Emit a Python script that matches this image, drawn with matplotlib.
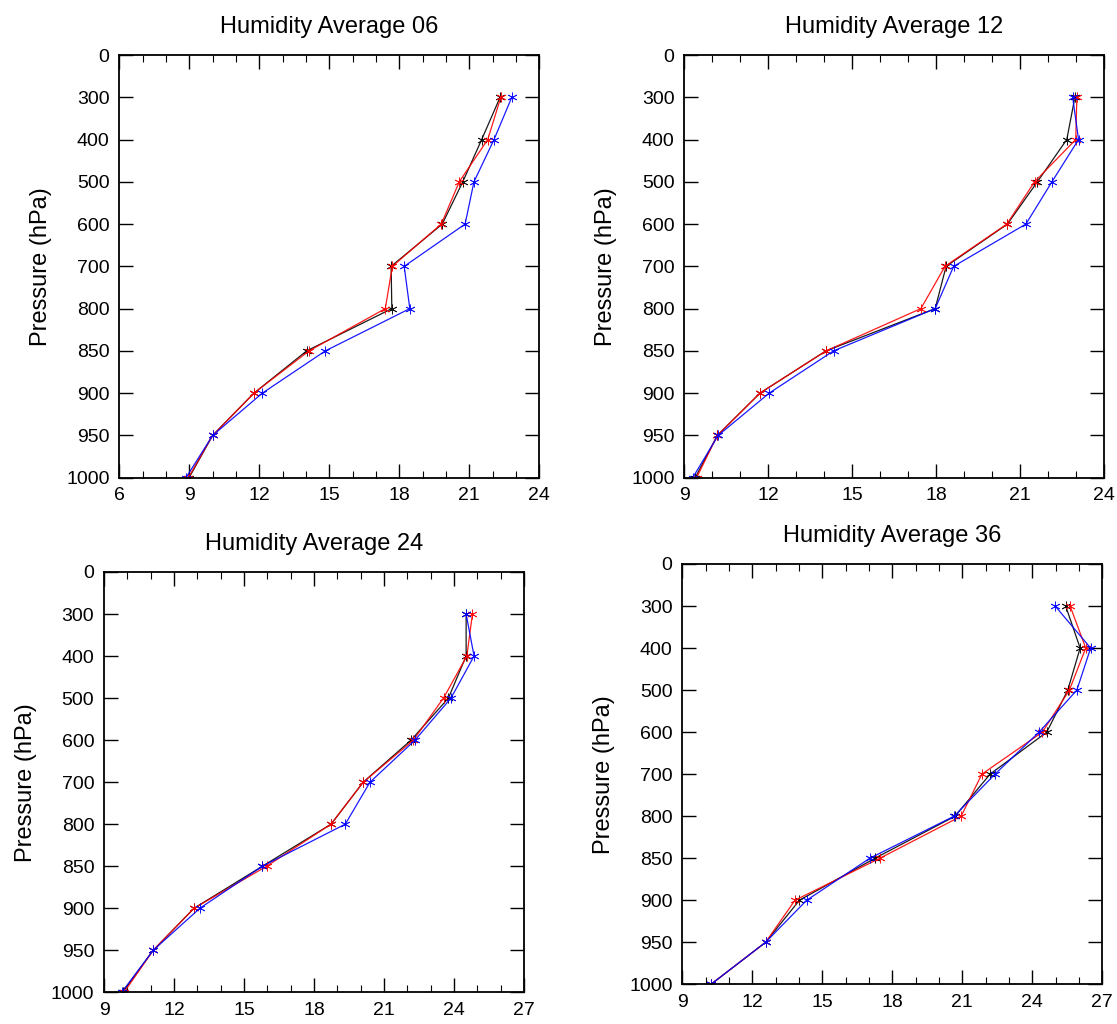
import matplotlib
matplotlib.use("Agg")
import matplotlib.pyplot as plt
from matplotlib.ticker import MultipleLocator

plt.rcParams["font.family"] = ["Liberation Sans", "DejaVu Sans"]

# Pressure levels (hPa), plotted at evenly spaced positions
levels = ["0", "300", "400", "500", "600", "700", "800", "850", "900", "950", "1000"]

titles = ["Humidity Average 06", "Humidity Average 12",
          "Humidity Average 24", "Humidity Average 36"]

# Humidity profiles, 300 hPa -> 1000 hPa
h06_black = [22.32, 21.53, 20.72, 19.84, 17.65, 17.68, 14.03, 11.77, 10.00, 8.99]
h06_red   = [22.35, 21.79, 20.57, 19.80, 17.70, 17.40, 14.13, 11.77, 10.00, 8.96]
h06_blue  = [22.82, 22.06, 21.20, 20.82, 18.21, 18.45, 14.83, 12.13, 10.00, 8.86]

h12_black = [22.95, 22.66, 21.61, 20.54, 18.35, 17.96, 14.06, 11.70, 10.18, 9.39]
h12_red   = [23.02, 22.98, 21.51, 20.52, 18.31, 17.45, 14.06, 11.70, 10.18, 9.44]
h12_blue  = [22.87, 23.08, 22.13, 21.20, 18.62, 17.96, 14.33, 12.03, 10.21, 9.30]

h24_black = [24.52, 24.52, 23.76, 22.16, 20.11, 18.73, 15.79, 12.86, 11.11, 9.80]
h24_red   = [24.79, 24.55, 23.55, 22.26, 20.11, 18.73, 15.97, 12.86, 11.11, 9.86]
h24_blue  = [24.52, 24.86, 23.87, 22.33, 20.40, 19.34, 15.79, 13.11, 11.11, 9.76]

h36_black = [25.43, 26.05, 25.52, 24.62, 22.19, 20.69, 17.26, 14.02, 12.57, 10.23]
h36_red   = [25.62, 26.29, 25.59, 24.43, 21.84, 20.95, 17.47, 13.83, 12.57, 10.23]
h36_blue  = [24.98, 26.50, 25.91, 24.29, 22.40, 20.65, 17.04, 14.33, 12.57, 10.23]

x_ranges = [(6, 24), (9, 24), (9, 27), (9, 27)]
series = [
    (h06_black, h06_red, h06_blue),
    (h12_black, h12_red, h12_blue),
    (h24_black, h24_red, h24_blue),
    (h36_black, h36_red, h36_blue),
]
colors = ["black", "red", "blue"]

W, H = 1117, 1024
# axes boxes in pixels: left, top, right, bottom
boxes = [
    (119.3, 55.0, 539.3, 477.7),
    (684.3, 55.0, 1104.3, 477.7),
    (104.0, 572.0, 524.0, 992.3),
    (682.3, 564.0, 1102.3, 984.3),
]

fig = plt.figure(figsize=(W / 100, H / 100), dpi=100)
fig.patch.set_facecolor("white")

y_data = list(range(1, len(levels)))

for k in range(4):
    l, t, r, b = boxes[k]
    ax = fig.add_axes([l / W, 1 - b / H, (r - l) / W, (b - t) / H])
    for ser, col in zip(series[k], colors):
        ax.plot(ser, y_data, color=col, lw=0.9, marker=(6, 2, 0),
                markersize=7, markeredgewidth=0.6, alpha=0.9)
    x0, x1 = x_ranges[k]
    ax.set_xlim(x0, x1)
    ax.set_ylim(len(levels) - 1, 0)
    ax.set_yticks(range(len(levels)))
    ax.set_yticklabels(levels)
    ax.xaxis.set_major_locator(MultipleLocator(3))
    ax.xaxis.set_minor_locator(MultipleLocator(1))
    ax.tick_params(axis="both", which="major", direction="in", length=10,
                   width=1.0, labelsize=14, top=True, right=True, pad=7)
    ax.tick_params(axis="x", which="minor", direction="in", length=5,
                   width=0.8, top=True)
    for sp in ax.spines.values():
        sp.set_linewidth(1.3)
    ax.set_title(titles[k], fontsize=17, pad=16)
    ax.set_ylabel("Pressure (hPa)", fontsize=17)
    ax.yaxis.set_label_coords(-0.16, 0.5)

fig.savefig("out.png", dpi=100, facecolor="white")
